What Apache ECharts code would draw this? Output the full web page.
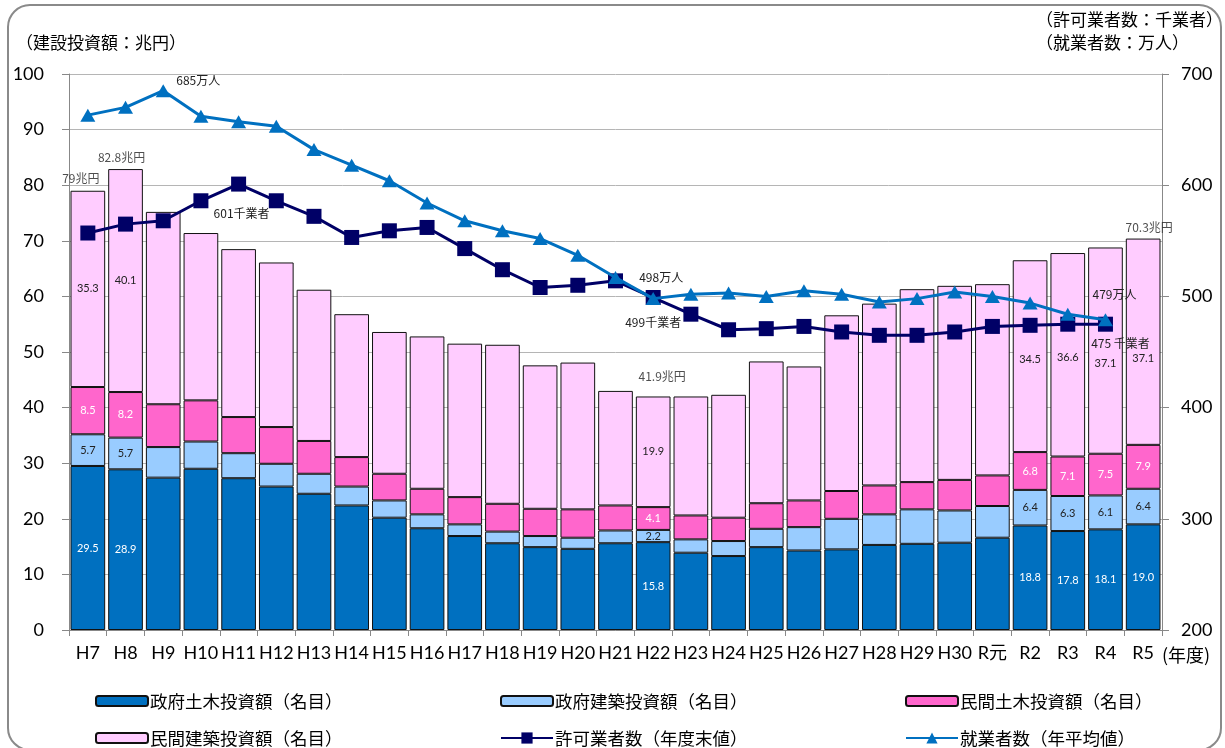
<!DOCTYPE html>
<html>
<head>
<meta charset="utf-8">
<script src="https://cdn.jsdelivr.net/npm/echarts@6/dist/echarts.min.js"></script>
<style>
html,body{margin:0;padding:0;background:#fff;}
#chart{width:1225px;height:748px;}
</style>
</head>
<body>
<div id="chart"></div>
<script>
// ---- data ----
const categories = ['H7','H8','H9','H10','H11','H12','H13','H14','H15','H16','H17','H18','H19','H20','H21','H22','H23','H24','H25','H26','H27','H28','H29','H30','R元','R2','R3','R4','R5'];
const govCivil   = [29.5,28.9,27.4,29.0,27.3,25.8,24.5,22.4,20.2,18.3,16.9,15.6,14.9,14.6,15.6,15.8,13.9,13.3,14.9,14.3,14.5,15.3,15.5,15.7,16.6,18.8,17.8,18.1,19.0];
const govBuild   = [5.7,5.7,5.5,4.9,4.5,4.1,3.6,3.4,3.1,2.5,2.1,2.1,2.0,2.0,2.3,2.2,2.4,2.7,3.3,4.2,5.5,5.5,6.2,5.8,5.7,6.4,6.3,6.1,6.4];
const privCivil  = [8.5,8.2,7.7,7.4,6.5,6.6,5.9,5.3,4.8,4.6,4.9,5.0,4.9,5.1,4.5,4.1,4.3,4.2,4.6,4.8,5.0,5.2,4.9,5.5,5.5,6.8,7.1,7.5,7.9];
const privBuild  = [35.3,40.1,34.6,30.1,30.2,29.6,27.2,25.7,25.5,27.4,27.6,28.6,25.8,26.4,20.6,19.9,21.4,22.1,25.5,24.1,31.6,32.7,34.7,34.9,34.4,34.5,36.6,37.1,37.1];
const permits    = [557,565,568,586,601,586,572,553,559,562,543,524,508,510,514,499,484,470,471,473,468,465,465,468,473,474,475,475,null];
const workers    = [663,670,685,662,657,653,632,618,604,584,568,559,552,537,517,498,502,503,500,505,502,495,498,504,500,494,484,479,null];
const totalCats  = ['H7','H8','H22','R5'];
const totalVals  = [79, 82.8, 41.9, 70.3];
const segLabelYears = ['H7','H8','H22','R2','R3','R4','R5'];
const workerLabelYears = ['H9','H22','R4'];
const permitLabelYears = ['H11','H22','R4'];

// ---- styling / layout ----
const FONT_NUM = "Lato, 'Noto Sans CJK JP', sans-serif";
const FONT_JP = "'Noto Sans CJK JP', sans-serif";
const names = ['政府土木投資額（名目）','政府建築投資額（名目）','民間土木投資額（名目）','民間建築投資額（名目）','許可業者数（年度末値）','就業者数（年平均値）'];
const privBuildOffsets = {R2:[0,3], R3:[0,3], R4:[0,13], R5:[0,17]};
const workerOffsets = {H9:[35,-10], H22:[8,-21], R4:[9,-25]};
const permitOffsets = {H11:[3,29], H22:[0,25], R4:[15,19]};
const permitSuffix = {H11:'千業者', H22:'千業者', R4:' 千業者'};
const totalOffsets = [[-7,-12],[-4,-12],[9,-21],[6,-12]];

function segData(values, offsets) {
  return values.map((v, i) => {
    const c = categories[i];
    if (segLabelYears.includes(c)) {
      return {value: v, label: {show: true, offset: (offsets && offsets[c]) || [0,0]}};
    }
    return v;
  });
}

function barSeries(name, values, color, labelColor, offsets) {
  return {
    name: name, type: 'bar', stack: 'inv', yAxisIndex: 0,
    barCategoryGap: '8%',
    data: segData(values, offsets),
    itemStyle: {color: color, borderColor: '#111', borderWidth: 1},
    label: {show: false, position: 'inside', color: labelColor, fontSize: 11, fontFamily: FONT_NUM,
            formatter: p => Number(p.value).toFixed(1)},
    emphasis: {disabled: true}
  };
}

const lineLabelStyle = {fontSize: 12, color: '#222', fontFamily: FONT_JP, position: 'inside'};

const workerData = workers.map((v, i) => {
  const c = categories[i];
  if (workerLabelYears.includes(c)) {
    return {value: v, label: Object.assign({show: true, offset: workerOffsets[c], formatter: v + '万人'}, lineLabelStyle)};
  }
  return v;
});
const permitData = permits.map((v, i) => {
  const c = categories[i];
  if (permitLabelYears.includes(c)) {
    return {value: v, label: Object.assign({show: true, offset: permitOffsets[c], formatter: v + permitSuffix[c]}, lineLabelStyle)};
  }
  return v;
});

const totalData = totalCats.map((c, i) => ({
  value: [c, totalVals[i]],
  label: {show: true, position: 'inside', offset: totalOffsets[i], formatter: totalVals[i] + '兆円',
          fontSize: 12, color: '#222', fontFamily: FONT_JP}
}));

function legendAt(name, left, top, iconH) {
  return {
    data: [name], left: left, top: top, padding: 0,
    itemWidth: 52, itemHeight: iconH, itemGap: 0,
    textStyle: {fontSize: 17.5, color: '#000', fontFamily: FONT_JP, lineHeight: 20, padding: [0,0,0,-3]},
    selectedMode: false
  };
}

const chart = echarts.init(document.getElementById('chart'), null, {renderer: 'canvas'});
chart.setOption({
  backgroundColor: '#fff',
  animation: false,
  grid: {left: 69, right: 63, top: 74, bottom: 118},
  legend: [
    legendAt(names[0], 95, 691, 10),
    legendAt(names[1], 500, 691, 10),
    legendAt(names[2], 905, 691, 10),
    legendAt(names[3], 95, 728, 10),
    legendAt(names[4], 500, 728, 14),
    legendAt(names[5], 905, 728, 14)
  ],
  xAxis: {
    type: 'category', data: categories, boundaryGap: true,
    axisLine: {lineStyle: {color: '#888', width: 1}},
    axisTick: {show: true, alignWithLabel: false, length: 6, lineStyle: {color: '#888'}},
    axisLabel: {fontSize: 18, color: '#000', fontFamily: FONT_NUM, margin: 14, interval: 0}
  },
  yAxis: [
    {
      type: 'value', min: 0, max: 100, interval: 10,
      axisLine: {show: true, lineStyle: {color: '#888'}},
      axisTick: {show: true, length: 7, lineStyle: {color: '#888'}},
      axisLabel: {fontSize: 18, color: '#000', fontFamily: FONT_NUM, margin: 25},
      splitLine: {show: true, lineStyle: {color: '#b5b5b5', width: 1}}
    },
    {
      type: 'value', min: 200, max: 700, interval: 100, position: 'right',
      axisLine: {show: true, lineStyle: {color: '#888'}},
      axisTick: {show: true, length: 7, lineStyle: {color: '#888'}},
      axisLabel: {fontSize: 18, color: '#000', fontFamily: FONT_NUM, margin: 19},
      splitLine: {show: false}
    }
  ],
  series: [
    barSeries(names[0], govCivil, '#0070C0', '#ffffff'),
    barSeries(names[1], govBuild, '#99CCFF', '#222222'),
    barSeries(names[2], privCivil, '#FF66CC', '#ffffff'),
    barSeries(names[3], privBuild, '#FFCCFF', '#222222', privBuildOffsets),
    {
      name: 'total', type: 'scatter', yAxisIndex: 0, symbolSize: 0, silent: true,
      data: totalData, z: 5
    },
    {
      name: names[4], type: 'line', yAxisIndex: 1, data: permitData,
      symbol: 'rect', symbolSize: 15, showAllSymbol: true,
      lineStyle: {color: '#000066', width: 3}, itemStyle: {color: '#000066'},
      emphasis: {disabled: true}, z: 3
    },
    {
      name: names[5], type: 'line', yAxisIndex: 1, data: workerData,
      symbol: 'triangle', symbolSize: [15, 13], showAllSymbol: true,
      lineStyle: {color: '#0070C0', width: 3}, itemStyle: {color: '#0070C0'},
      emphasis: {disabled: true}, z: 4
    }
  ],
  graphic: [
    {type: 'rect', shape: {x: 8, y: 5, width: 1213, height: 745, r: 22}, style: {fill: 'none', stroke: '#8a8a8a', lineWidth: 2}, silent: true, z: -1},
    {type: 'text', left: 16, top: 34, style: {text: '（建設投資額：兆円）', fill: '#000', font: "17px 'Noto Sans CJK JP'"}},
    {type: 'text', left: 1036, top: 11, style: {text: '（許可業者数：千業者）', fill: '#000', font: "17px 'Noto Sans CJK JP'"}},
    {type: 'text', left: 1036, top: 34, style: {text: '（就業者数：万人）', fill: '#000', font: "17px 'Noto Sans CJK JP'"}},
    {type: 'text', left: 1162, top: 646, style: {text: '(年度)', fill: '#000', font: "18px 'Noto Sans CJK JP'"}}
  ]
});
</script>
</body>
</html>
